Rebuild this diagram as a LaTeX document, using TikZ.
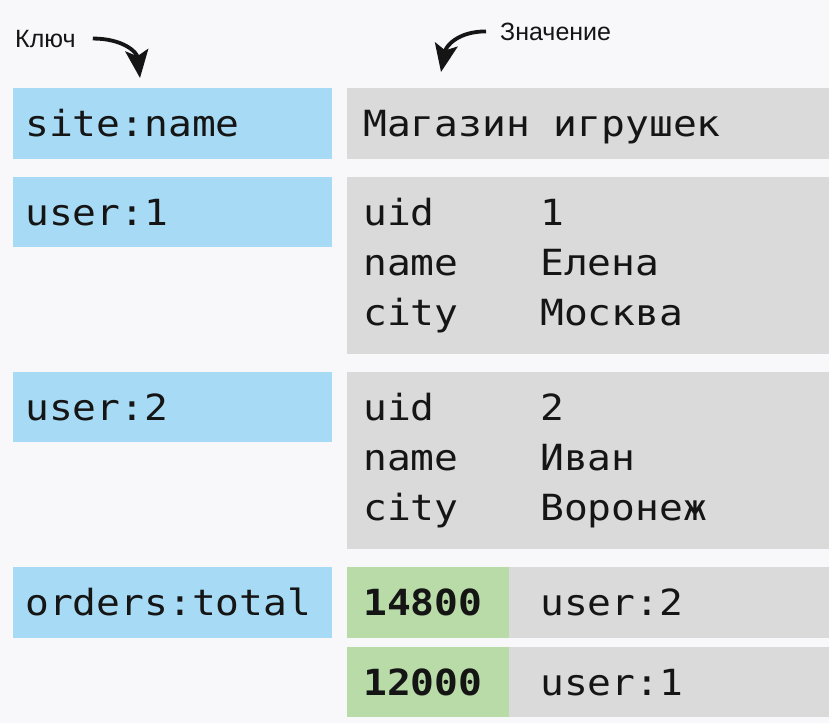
\documentclass[tikz,border=0pt]{standalone}
\usepackage{fontspec}
\setmainfont{Liberation Sans}
\setmonofont[FakeStretch=1.1]{DejaVu Sans Mono}
\usetikzlibrary{arrows.meta}
\definecolor{keyblue}{HTML}{A7DBF5}
\definecolor{valgray}{HTML}{DADADA}
\definecolor{scoregreen}{HTML}{B9DBA8}
\definecolor{paper}{HTML}{F8F8FA}
\definecolor{ink}{HTML}{151515}
\tikzstyle{line} = [draw, ink, line width=3.8pt, -{Stealth[length=28pt,width=23pt,inset=6pt]}]
\tikzstyle{keybox} = [fill=keyblue, anchor=north west, inner sep=0pt, outer sep=0pt, minimum width=319pt]
\tikzstyle{valbox} = [fill=valgray, anchor=north west, inner sep=0pt, outer sep=0pt]
\tikzstyle{scorebox} = [fill=scoregreen, anchor=north west, inner sep=0pt, outer sep=0pt, minimum width=162pt]
\tikzstyle{code} = [anchor=base west, inner sep=0pt, text=ink, font=\ttfamily\fontsize{36}{43}\selectfont]
\tikzstyle{note} = [anchor=base west, inner sep=0pt, text=ink, font=\fontsize{25}{30}\selectfont]

\begin{document}
\begin{tikzpicture}[x=1pt, y=-1pt]
        \useasboundingbox (0,0) rectangle (829,723);
        \fill[paper] (0,0) rectangle (829,723);
        % boxes
        \node[keybox, minimum height=71pt] (site) at (13,88) {};
        \node[valbox, minimum width=482pt, minimum height=71pt] (sitev) at (347,88) {};
        \node[keybox, minimum height=70pt] (user1) at (13,177) {};
        \node[valbox, minimum width=482pt, minimum height=177pt] (user1v) at (347,177) {};
        \node[keybox, minimum height=70pt] (user2) at (13,372) {};
        \node[valbox, minimum width=482pt, minimum height=177pt] (user2v) at (347,372) {};
        \node[keybox, minimum height=71pt] (orders) at (13,567) {};
        \node[scorebox, minimum height=71pt] (score1) at (347,567) {};
        \node[valbox, minimum width=320pt, minimum height=71pt] (member1) at (509,567) {};
        \node[scorebox, minimum height=70pt] (score2) at (347,647) {};
        \node[valbox, minimum width=320pt, minimum height=70pt] (member2) at (509,647) {};
        % keys
        \node[code] (sitek) at (25,136) {site:name};
        \node[code] (user1k) at (25,225) {user:1};
        \node[code] (user2k) at (25,420) {user:2};
        \node[code] (ordersk) at (25,615) {orders:total};
        % values
        \node[code] (sitet) at (363,136) {Магазин игрушек};
        \node[code] (uid1) at (363,225) {uid};
        \node[code] (uid1t) at (540,225) {1};
        \node[code] (name1) at (363,275) {name};
        \node[code] (name1t) at (540,275) {Елена};
        \node[code] (city1) at (363,325) {city};
        \node[code] (city1t) at (540,325) {Москва};
        \node[code] (uid2) at (363,420) {uid};
        \node[code] (uid2t) at (540,420) {2};
        \node[code] (name2) at (363,470) {name};
        \node[code] (name2t) at (540,470) {Иван};
        \node[code] (city2) at (363,520) {city};
        \node[code] (city2t) at (540,520) {Воронеж};
        \node[code, font=\ttfamily\bfseries\fontsize{36}{43}\selectfont] (score1t) at (363,615) {14800};
        \node[code] (member1t) at (540,615) {user:2};
        \node[code, font=\ttfamily\bfseries\fontsize{36}{43}\selectfont] (score2t) at (363,695) {12000};
        \node[code] (member2t) at (540,695) {user:1};
        % labels
        \node[note] (keylabel) at (15,47) {Ключ};
        \node[note] (vallabel) at (500,40) {Значение};
        \coordinate (keytip) at (140,78);
        \coordinate (valtip) at (441,72);
        \path[line] ([xshift=17pt]keylabel.east) .. controls +(30,0) and +(-3,-26) .. (keytip);
        \path[line] ([xshift=-14pt]vallabel.west) .. controls +(-28,0) and +(5,-26) .. (valtip);
\end{tikzpicture}
\end{document}
